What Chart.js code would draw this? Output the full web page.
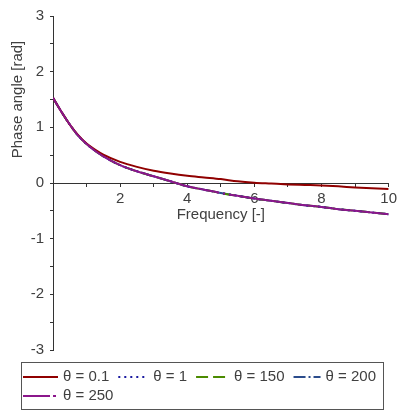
<!DOCTYPE html>
<html>
<head>
<meta charset="utf-8">
<script src="https://cdn.jsdelivr.net/npm/chart.js@4.4.1/dist/chart.umd.min.js"></script>
<style>
    html, body { margin: 0; padding: 0; background: #fff; }
    #wrap { width: 401px; height: 413px; }
</style>
</head>
<body>
<div id="wrap"><canvas id="phaseChart" width="401" height="413"></canvas></div>
<script>
const frequencies = [0, 0.25, 0.5, 0.75, 1, 1.25, 1.5, 2, 2.5, 3, 3.5, 4, 4.5, 5, 5.5, 6, 6.5, 7, 7.5, 8, 8.5, 9, 9.5, 10];

// theta = 0.1
const phaseLowTheta = [1.53, 1.28, 1.05, 0.86, 0.71, 0.6, 0.51, 0.38, 0.29, 0.22, 0.17, 0.13, 0.1, 0.07, 0.03, 0.005,
    -0.01, -0.025, -0.035, -0.045, -0.06, -0.08, -0.095, -0.11];

// theta = 1, 150, 200 and 250 lie on top of each other
const phaseHighTheta = [1.53, 1.28, 1.05, 0.85, 0.7, 0.58, 0.48, 0.32, 0.21, 0.12, 0.03, -0.06, -0.12, -0.18, -0.23, -0.28,
    -0.32, -0.36, -0.4, -0.43, -0.47, -0.5, -0.53, -0.56];

const thetaLabels = ["θ = 0.1", "θ = 1", "θ = 150", "θ = 200", "θ = 250"];
const lineColors = ["#900000", "#1a1aa0", "#4b8b00", "#2b4c8c", "#8b168b"];
const curveDashes = [[], [2, 4], [12, 5], [12, 3, 2, 3], [200, 4, 2, 4]];
const legendDashes = [[], [2, 4], [12, 5], [12, 3, 2, 3], [27, 3, 3, 3]];
const legendSwatch = [35, 30, 33, 27, 35];

const FONT = '"Liberation Sans", Arial, sans-serif';
const TEXT_COLOR = "#404040";
const AXIS_COLOR = "#333";

function toPoints(values) {
    return frequencies.map((f, i) => ({x: f, y: values[i]}));
}

const seriesValues = [phaseLowTheta, phaseHighTheta, phaseHighTheta, phaseHighTheta, phaseHighTheta];
// purple on top, then the red one, the rest underneath
const drawOrder = [1, 2, 2, 2, 0];

const datasets = thetaLabels.map((label, i) => ({
    label: label,
    data: toPoints(seriesValues[i]),
    borderColor: lineColors[i],
    backgroundColor: lineColors[i],
    borderWidth: 2,
    borderDash: curveDashes[i],
    pointRadius: 0,
    cubicInterpolationMode: "monotone",
    order: drawOrder[i],
}));

// axis titles, the y one sits over the positive half like the original plot
const axisTitles = {
    id: "axisTitles",
    afterDraw(chart) {
        const ctx = chart.ctx;
        const xs = chart.scales.x;
        const ys = chart.scales.y;
        ctx.save();
        ctx.font = "15px " + FONT;
        ctx.fillStyle = TEXT_COLOR;
        ctx.textAlign = "center";
        ctx.textBaseline = "middle";
        ctx.fillText("Frequency [-]", (xs.left + xs.right) / 2, ys.getPixelForValue(0) + 32);

        ctx.translate(18, (ys.getPixelForValue(3) + ys.getPixelForValue(0)) / 2);
        ctx.rotate(-Math.PI / 2);
        ctx.fillText("Phase angle [rad]", 0, 0);
        ctx.restore();
    }
};

// boxed legend under the plot, two rows
const boxedLegend = {
    id: "boxedLegend",
    afterDraw(chart) {
        const ctx = chart.ctx;
        const rows = [[0, 1, 2, 3], [4]];
        let y = 377;
        ctx.save();
        ctx.font = "15px " + FONT;
        ctx.textBaseline = "middle";
        ctx.textAlign = "left";
        rows.forEach((row) => {
            let x = 23;
            row.forEach((i) => {
                const ds = chart.data.datasets[i];
                ctx.strokeStyle = ds.borderColor;
                ctx.lineWidth = ds.borderWidth;
                ctx.setLineDash(legendDashes[i]);
                ctx.beginPath();
                ctx.moveTo(x, y);
                ctx.lineTo(x + legendSwatch[i], y);
                ctx.stroke();
                ctx.setLineDash([]);
                const tx = x + legendSwatch[i] + 5;
                ctx.fillStyle = TEXT_COLOR;
                ctx.fillText(ds.label, tx, y);
                x = tx + ctx.measureText(ds.label).width + 9;
            });
            y += 19;
        });
        ctx.strokeStyle = "#555";
        ctx.lineWidth = 1;
        ctx.strokeRect(21.5, 362.5, 362, 47);
        ctx.restore();
    }
};

new Chart(document.getElementById("phaseChart"), {
    type: "line",
    data: {datasets: datasets},
    options: {
        responsive: false,
        animation: false,
        layout: {
            padding: {left: 0, right: 9, top: 16, bottom: 63},
        },
        plugins: {
            legend: {display: false},
            tooltip: {enabled: false},
        },
        scales: {
            x: {
                type: "linear",
                position: {y: 0},
                min: 0,
                max: 10,
                border: {display: true, color: AXIS_COLOR, width: 1},
                grid: {drawOnChartArea: false, drawTicks: true, tickLength: 3, color: AXIS_COLOR},
                ticks: {
                    stepSize: 1,
                    padding: 4,
                    maxRotation: 0,
                    autoSkip: false,
                    color: TEXT_COLOR,
                    font: {family: FONT, size: 15},
                    callback: (v) => (v > 0 && v % 2 === 0 ? String(v) : ""),
                },
            },
            y: {
                type: "linear",
                position: "left",
                min: -3,
                max: 3,
                afterFit: (scale) => {
                    scale.width = 53;
                },
                border: {display: true, color: AXIS_COLOR, width: 1},
                grid: {drawOnChartArea: false, drawTicks: true, tickLength: 3, color: AXIS_COLOR},
                ticks: {
                    stepSize: 0.5,
                    padding: 6,
                    autoSkip: false,
                    color: TEXT_COLOR,
                    font: {family: FONT, size: 15},
                    callback: (v) => (Number.isInteger(v) ? String(v) : ""),
                },
            },
        },
    },
    plugins: [axisTitles, boxedLegend],
});
</script>
</body>
</html>
